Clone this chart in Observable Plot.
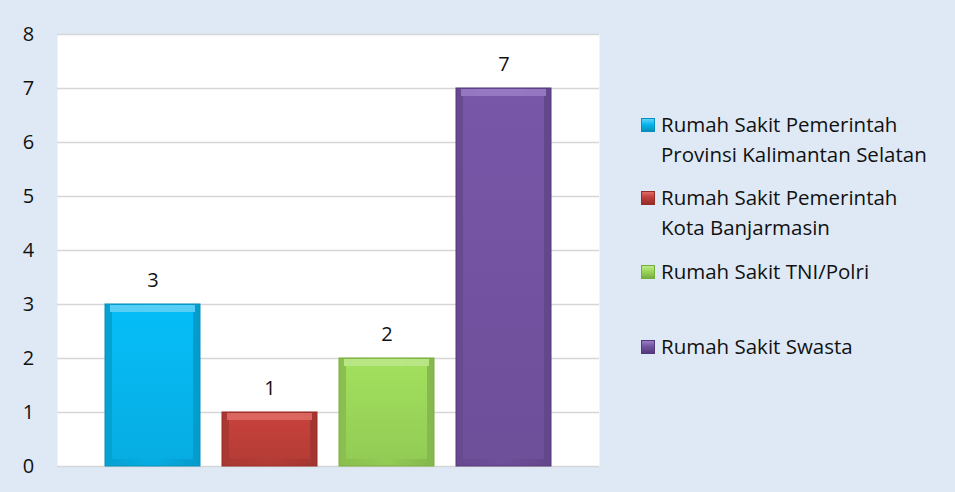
<!DOCTYPE html>
<html><head><meta charset="utf-8">
<script src="https://cdn.jsdelivr.net/npm/d3@7"></script>
<script src="https://cdn.jsdelivr.net/npm/@observablehq/plot@0.6"></script>
<style>
html,body{margin:0;padding:0;background:#DEE9F5;}
#wrap{position:relative;width:955px;height:492px;background:#DEE9F5;overflow:hidden;font-family:"Open Sans",Lato,sans-serif;}
.item{position:absolute;left:661px;font-size:20.5px;line-height:29.5px;color:#111;white-space:nowrap;}
.sw{position:absolute;left:641px;width:14px;height:14px;box-sizing:border-box;}
</style>
</head><body>
<div id="wrap"></div>
<script>
const categories = ["Rumah Sakit Pemerintah Provinsi Kalimantan Selatan", "Rumah Sakit Pemerintah Kota Banjarmasin", "Rumah Sakit TNI/Polri", "Rumah Sakit Swasta"];
const legendLines = [["Rumah Sakit Pemerintah", "Provinsi Kalimantan Selatan"], ["Rumah Sakit Pemerintah", "Kota Banjarmasin"], ["Rumah Sakit TNI/Polri"], ["Rumah Sakit Swasta"]];
const values = [3, 1, 2, 7];
const yTicks = [0, 1, 2, 3, 4, 5, 6, 7, 8];
const mainColors = ["#06B6EE", "#BF3F39", "#9BD75A", "#7453A2"];
const lightColors = ["#5FD3F8", "#E06A64", "#BEEA8A", "#9A7CC6"];
const darkColors = ["#0790BD", "#962D29", "#78AE3E", "#54397A"];

const data = categories.map((c, i) => ({name: c, value: values[i], i}));

const plot = Plot.plot({
  width: 955,
  height: 492,
  marginLeft: 57,
  marginRight: 356,
  marginTop: 34,
  marginBottom: 26,
  style: {background: "transparent", fontFamily: "'Open Sans', Lato, sans-serif", color: "#111"},
  x: {domain: categories, paddingInner: 0.19, paddingOuter: 0.4, axis: null},
  y: {domain: [0, 8], ticks: yTicks, label: null},
  color: {type: "identity"},
  marks: [
    Plot.frame({fill: "white", stroke: null}),
    Plot.gridY(yTicks, {stroke: "#D6D6D6", strokeOpacity: 1, strokeWidth: 1.5}),
    Plot.axisY(yTicks, {tickSize: 0, tickPadding: 29, textAnchor: "middle", fontSize: 20, fill: "#111", label: null, tickFormat: d => String(d)}),
    Plot.barY(data, {x: "name", y: "value", fill: d => `url(#edge${d.i})`, stroke: d => darkColors[d.i], strokeWidth: 1}),
    Plot.barY(data, {x: "name", y: "value", fill: d => `url(#face${d.i})`, insetLeft: 7, insetRight: 7, insetTop: 8, insetBottom: 7}),
    Plot.tickY(data, {x: "name", y: "value", stroke: d => lightColors[d.i], strokeWidth: 7, dy: 4, insetLeft: 5, insetRight: 5, strokeOpacity: 0.9}),
    Plot.text(data, {x: "name", y: "value", text: d => String(d.value), dy: -24, fontSize: 20, fill: "#111"})
  ]
});

const svg = d3.select(plot);
const defs = svg.insert("defs", ":first-child");
mainColors.forEach((c, i) => {
  const g = defs.append("linearGradient").attr("id", "edge" + i).attr("x1", 0).attr("x2", 1).attr("y1", 0).attr("y2", 0);
  g.append("stop").attr("offset", "0").attr("stop-color", d3.color(c).darker(0.35));
  g.append("stop").attr("offset", "0.5").attr("stop-color", d3.color(c).darker(0.15));
  g.append("stop").attr("offset", "1").attr("stop-color", d3.color(c).darker(0.45));
  const f = defs.append("linearGradient").attr("id", "face" + i).attr("x1", 0).attr("x2", 0).attr("y1", 0).attr("y2", 1);
  f.append("stop").attr("offset", "0").attr("stop-color", d3.color(c).brighter(0.1));
  f.append("stop").attr("offset", "1").attr("stop-color", d3.color(c).darker(0.15));
});

const wrap = document.getElementById("wrap");
wrap.appendChild(plot);
plot.style.position = "absolute";
plot.style.left = "0";
plot.style.top = "0";

const itemCenters = [125, 198, 272, 347];
legendLines.forEach((lines, i) => {
  const sw = document.createElement("div");
  sw.className = "sw";
  sw.style.top = (itemCenters[i] - 7) + "px";
  sw.style.background = `linear-gradient(180deg, ${lightColors[i]} 0%, ${mainColors[i]} 45%, ${darkColors[i]} 100%)`;
  sw.style.border = `1px solid ${darkColors[i]}`;
  wrap.appendChild(sw);
  const t = document.createElement("div");
  t.className = "item";
  t.style.top = (itemCenters[i] - 14.75) + "px";
  t.innerHTML = lines.join("<br>");
  wrap.appendChild(t);
});
</script>
</body></html>
